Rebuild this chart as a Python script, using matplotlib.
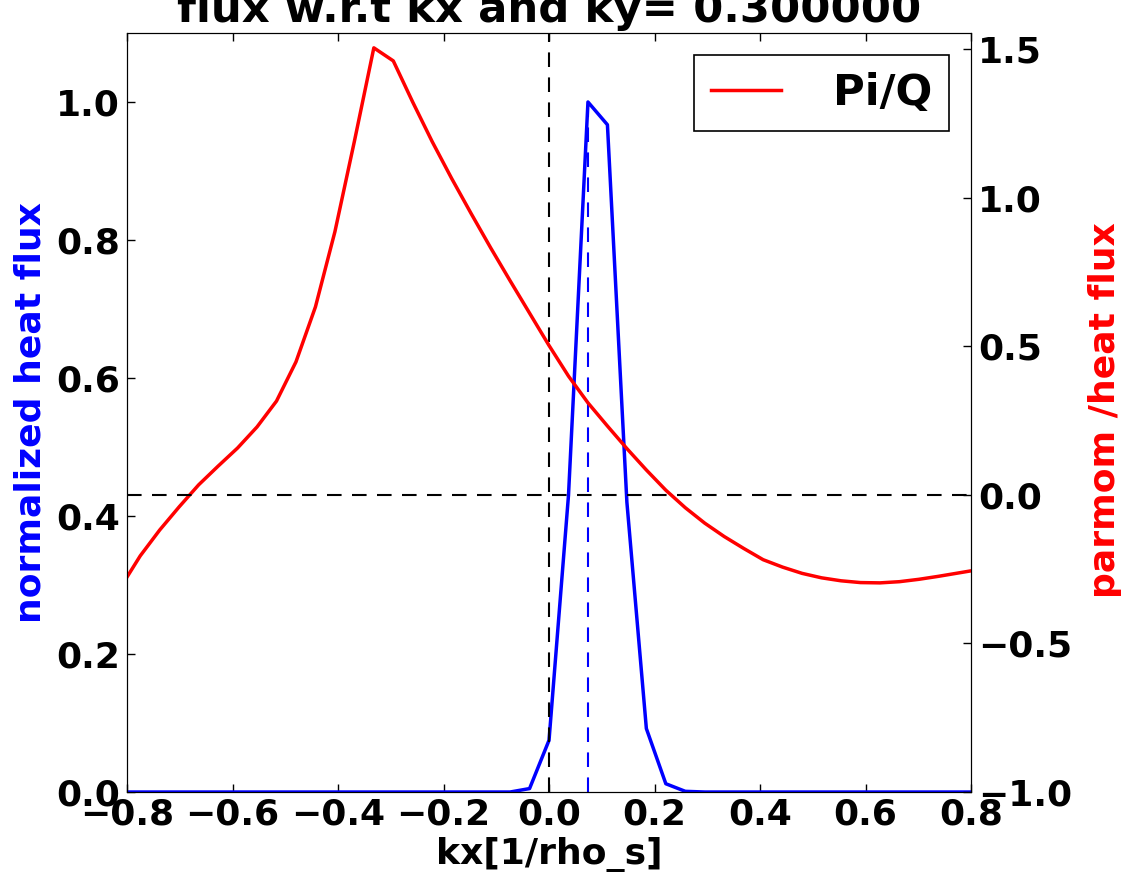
import matplotlib
matplotlib.use('Agg')
import matplotlib.pyplot as plt

plt.rcParams['font.family'] = ['DejaVu Sans']
plt.rcParams['font.weight'] = 'bold'
plt.rcParams['font.size'] = 26
plt.rcParams['axes.labelweight'] = 'bold'
plt.rcParams['axes.titleweight'] = 'bold'

# kx grid
kx = [-0.8118, -0.7749, -0.7380, -0.7011, -0.6642, -0.6273, -0.5904, -0.5535,
      -0.5166, -0.4797, -0.4428, -0.4059, -0.3690, -0.3321, -0.2952, -0.2583,
      -0.2214, -0.1845, -0.1476, -0.1107, -0.0738, -0.0369, 0.0,
      0.0369, 0.0738, 0.1107, 0.1476, 0.1845, 0.2214, 0.2583, 0.2952,
      0.3321, 0.3690, 0.4059, 0.4428, 0.4797, 0.5166, 0.5535, 0.5904,
      0.6273, 0.6642, 0.7011, 0.7380, 0.7749, 0.8118]

# normalized heat flux (left axis)
heat = [0.0, 0.0, 0.0, 0.0, 0.0, 0.0, 0.0, 0.0, 0.0, 0.0, 0.0, 0.0, 0.0,
        0.0, 0.0, 0.0, 0.0, 0.0, 0.0, 0.0, 0.0, 0.005, 0.075,
        0.43, 1.0, 0.967, 0.42, 0.092, 0.012, 0.001, 0.0,
        0.0, 0.0, 0.0, 0.0, 0.0, 0.0, 0.0, 0.0,
        0.0, 0.0, 0.0, 0.0, 0.0, 0.0]

# parmom / heat flux (right axis)
piq = [-0.31, -0.205, -0.118, -0.04, 0.034, 0.097, 0.158, 0.229,
       0.316, 0.448, 0.633, 0.886, 1.19, 1.505, 1.461, 1.322,
       1.189, 1.065, 0.947, 0.832, 0.721, 0.612, 0.503,
       0.40, 0.31, 0.232, 0.156, 0.084, 0.016, -0.043, -0.095,
       -0.14, -0.18, -0.218, -0.243, -0.264, -0.279, -0.289, -0.295,
       -0.296, -0.292, -0.284, -0.274, -0.263, -0.252]

xticks = [-0.8, -0.6, -0.4, -0.2, 0.0, 0.2, 0.4, 0.6, 0.8]
yticks_left = [0.0, 0.2, 0.4, 0.6, 0.8, 1.0]
yticks_right = [-1.0, -0.5, 0.0, 0.5, 1.0, 1.5]

kx_peak = kx[heat.index(max(heat))]

fig = plt.figure(figsize=(11.34, 8.77), dpi=100)
ax = fig.add_axes([0.112, 0.0969, 0.7443, 0.8655])
ax2 = ax.twinx()

ax.plot(kx, heat, color='#0000ff', lw=2.5)
ax.vlines(kx_peak, 0, max(heat), colors='#0000ff', linestyles=(0, (7, 5)), lw=1.5)
ax.axvline(0, color='k', ls=(0, (7, 5)), lw=1.5)

ax2.plot(kx, piq, color='#ff0000', lw=2.5, label='Pi/Q')
ax2.axhline(0, color='k', ls=(0, (7, 5)), lw=1.5)

ax.set_xlim(-0.8, 0.8)
ax.set_ylim(0, 1.1)
ax2.set_ylim(-1.0, 1.555)
ax.set_xticks(xticks)
ax.set_yticks(yticks_left)
ax2.set_yticks(yticks_right)

ax.tick_params(axis='x', direction='in', length=6, width=1, top=True, pad=4)
ax.tick_params(axis='y', direction='in', length=6, width=1, pad=5)
ax2.tick_params(axis='y', direction='in', length=6, width=1, pad=5)

ax.set_xlabel('kx[1/rho_s]')
ax.set_ylabel('normalized heat flux', color='#0000ff')
ax2.set_ylabel('parmom /heat flux', color='#ff0000')
ax.yaxis.set_label_coords(-0.094, 0.5)
ax2.yaxis.set_label_coords(1.139, 0.503)

ax.set_title('flux w.r.t kx and ky= 0.300000', fontsize='large', pad=8)

leg = ax2.legend(loc='upper right', fontsize='large', fancybox=False,
                 handlelength=1.6, handletextpad=1.2, framealpha=1)
leg.get_frame().set_edgecolor('k')
leg.get_frame().set_linewidth(1.2)

fig.savefig('out.png', dpi=100)
